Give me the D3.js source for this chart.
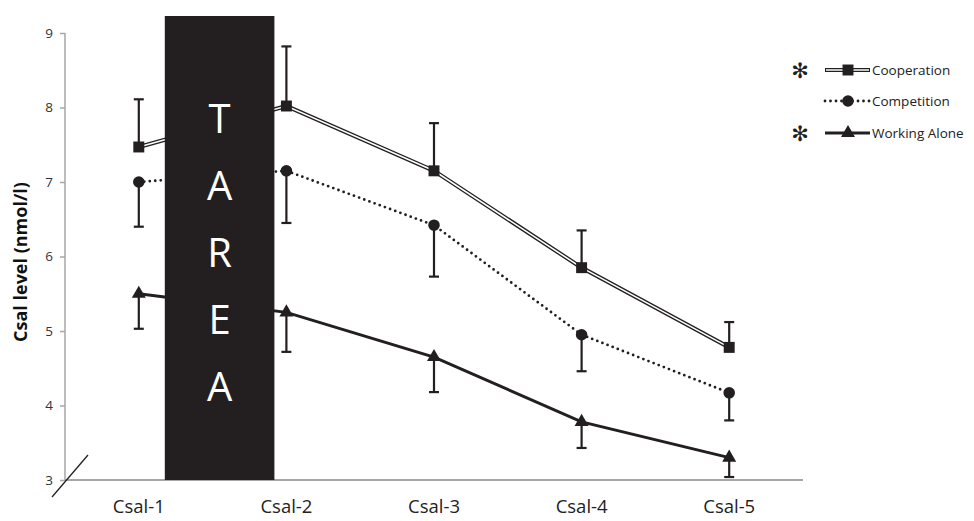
<!DOCTYPE html>
<html><head><meta charset="utf-8">
<script src="https://cdn.jsdelivr.net/npm/d3@7"></script>
<style>body{margin:0;background:#fff}svg{display:block}</style>
</head><body>
<svg id="c" width="974" height="521"></svg>
<script>
const categories = ["Csal-1","Csal-2","Csal-3","Csal-4","Csal-5"];
const yTicks = [3,4,5,6,7,8,9];
const cooperation = [7.47, 8.02, 7.15, 5.85, 4.78];
const cooperationErr = [0.64, 0.80, 0.64, 0.50, 0.34];
const competition = [7.0, 7.15, 6.42, 4.95, 4.17];
const competitionErr = [0.60, 0.70, 0.69, 0.49, 0.37];
const workingAlone = [5.5, 5.25, 4.65, 3.78, 3.30];
const workingAloneErr = [0.47, 0.53, 0.47, 0.35, 0.26];
const seriesNames = ["Cooperation","Competition","Working Alone"];
const areaLetters = ["T","A","R","E","A"];

const svg = d3.select("#c");
const x = d3.scaleBand().domain(categories).range([65, 803]);
const y = d3.scaleLinear().domain([3, 9]).range([480, 33]);
const cx = c => x(c) + x.bandwidth()/2;
const font = "'Open Sans', 'Liberation Sans', sans-serif";

// axes
const yAxis = svg.append("g").attr("transform","translate(65,0)")
  .call(d3.axisLeft(y).tickValues(yTicks).tickSize(5).tickPadding(7).tickFormat(d3.format("d")));
yAxis.selectAll("path,line").attr("stroke","#a6a6a6").attr("stroke-width",1.5);
yAxis.select(".domain").attr("d","M0,33V480");
yAxis.selectAll("text").attr("font-family",font).attr("font-size",13.5).attr("fill","#333");

const xAxis = svg.append("g").attr("transform","translate(0,480)")
  .call(d3.axisBottom(x).tickSize(0).tickPadding(20));
xAxis.select(".domain").attr("stroke","#a6a6a6").attr("stroke-width",2).attr("d","M65,0H803");
xAxis.selectAll("text").attr("font-family",font).attr("font-size",18.5).attr("fill","#222");

// break mark
svg.append("line").attr("x1",52).attr("y1",497).attr("x2",88).attr("y2",455)
  .attr("stroke","#222").attr("stroke-width",1.3);

// y title
svg.append("text").attr("transform","translate(27,262) rotate(-90)")
  .attr("text-anchor","middle").attr("font-family",font).attr("font-weight","bold")
  .attr("font-size",18).attr("fill","#111").text("Csal level (nmol/l)");

const ink = "#231f20";
const line = d3.line().x((d,i)=>cx(categories[i])).y(d=>y(d));

// error bars
function errBars(vals, errs, dir){
  const g = svg.append("g").attr("stroke",ink).attr("stroke-width",2.2);
  vals.forEach((v,i)=>{
    const px = cx(categories[i]);
    const end = y(v + dir*errs[i]);
    g.append("line").attr("x1",px).attr("x2",px).attr("y1",y(v)).attr("y2",end);
    g.append("line").attr("x1",px-5).attr("x2",px+5).attr("y1",end).attr("y2",end);
  });
}
errBars(cooperation, cooperationErr, 1);
errBars(competition, competitionErr, -1);
errBars(workingAlone, workingAloneErr, -1);

// lines
svg.append("path").attr("d",line(cooperation)).attr("fill","none").attr("stroke",ink).attr("stroke-width",4.2);
svg.append("path").attr("d",line(cooperation)).attr("fill","none").attr("stroke","#fff").attr("stroke-width",1.6);
svg.append("path").attr("d",line(competition)).attr("fill","none").attr("stroke",ink).attr("stroke-width",2.8)
  .attr("stroke-dasharray","0,5.5").attr("stroke-linecap","round");
svg.append("path").attr("d",line(workingAlone)).attr("fill","none").attr("stroke",ink).attr("stroke-width",3);

// markers
const sq = d3.symbol().type(d3.symbolSquare).size(120);
const ci = d3.symbol().type(d3.symbolCircle).size(105);
const tr = d3.symbol().type(d3.symbolTriangle).size(85);
function markers(vals, sym){
  svg.append("g").selectAll("path").data(vals).join("path")
    .attr("d",sym).attr("fill",ink)
    .attr("transform",(d,i)=>`translate(${cx(categories[i])},${y(d)})`);
}
markers(cooperation, sq);
markers(competition, ci);
markers(workingAlone, tr);

// black TAREA block (over Csal-1 .. Csal-2 gap)
const bx0 = cx(categories[0]) + 26, bx1 = cx(categories[1]) - 12;
svg.append("rect").attr("x",bx0).attr("y",16).attr("width",bx1-bx0).attr("height",480-16)
  .attr("fill",ink);
areaLetters.forEach((L,i)=>{
  svg.append("text").attr("x",(bx0+bx1)/2).attr("y",133 + i*67)
    .attr("text-anchor","middle").attr("font-family",font).attr("font-size",40)
    .attr("fill","#fff").text(L);
});

// legend
const lg = svg.append("g");
const ly = [70, 101, 133];
const lx0 = 825, lx1 = 870, lm = 848;
// cooperation
lg.append("line").attr("x1",lx0).attr("x2",lx1).attr("y1",ly[0]).attr("y2",ly[0]).attr("stroke",ink).attr("stroke-width",4.2);
lg.append("line").attr("x1",lx0+1).attr("x2",lx1-1).attr("y1",ly[0]).attr("y2",ly[0]).attr("stroke","#fff").attr("stroke-width",1.6);
lg.append("path").attr("d",sq).attr("fill",ink).attr("transform",`translate(${lm},${ly[0]})`);
// competition
lg.append("line").attr("x1",lx0).attr("x2",lx1).attr("y1",ly[1]).attr("y2",ly[1]).attr("stroke",ink).attr("stroke-width",2.8)
  .attr("stroke-dasharray","0,5.5").attr("stroke-linecap","round");
lg.append("path").attr("d",ci).attr("fill",ink).attr("transform",`translate(${lm},${ly[1]})`);
// working alone
lg.append("line").attr("x1",lx0).attr("x2",lx1).attr("y1",ly[2]).attr("y2",ly[2]).attr("stroke",ink).attr("stroke-width",3);
lg.append("path").attr("d",tr).attr("fill",ink).attr("transform",`translate(${lm},${ly[2]})`);
seriesNames.forEach((n,i)=>{
  lg.append("text").attr("x",872).attr("y",ly[i]).attr("dy","0.35em")
    .attr("font-family",font).attr("font-size",13.5).attr("fill","#222").text(n);
});
[0,2].forEach(i=>{
  lg.append("text").attr("x",800).attr("y",ly[i]).attr("dy","0.38em").attr("text-anchor","middle")
    .attr("font-family","'DejaVu Sans', sans-serif").attr("font-size",21).attr("fill",ink).text("\u273B");
});
</script>
</body></html>
